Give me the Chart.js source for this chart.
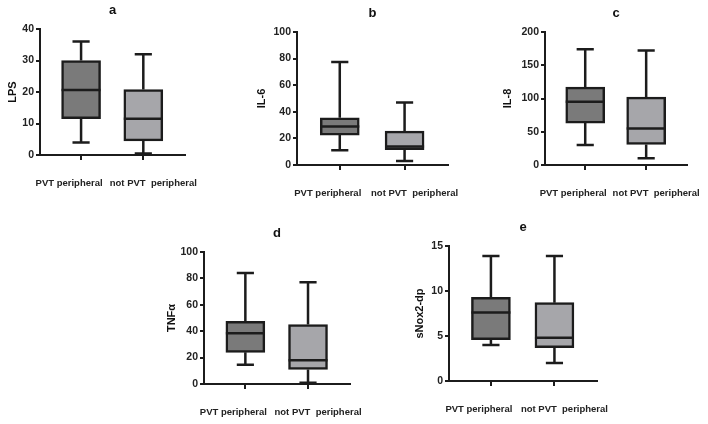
<!DOCTYPE html>
<html>
<head>
<meta charset="utf-8">
<script src="https://cdn.jsdelivr.net/npm/chart.js@4.4.1/dist/chart.umd.min.js"></script>
<style>
	html, body { margin: 0; padding: 0; background: #fff; width: 708px; height: 424px; overflow: hidden; }
	.panel { position: absolute; }
</style>
</head>
<body>
<div class="panel" id="panel-a"><canvas></canvas></div>
<div class="panel" id="panel-b"><canvas></canvas></div>
<div class="panel" id="panel-c"><canvas></canvas></div>
<div class="panel" id="panel-d"><canvas></canvas></div>
<div class="panel" id="panel-e"><canvas></canvas></div>
<script>
// groups on the x axis
const groups = ['PVT peripheral', 'not PVT  peripheral'];

// panel letters and marker names
const letters = ['a', 'b', 'c', 'd', 'e'];
const markers = ['LPS', 'IL-6', 'IL-8', 'TNFα', 'sNox2-dp'];

// y axis range / tick step per panel
const yMax = [40, 100, 200, 100, 15];
const yStep = [10, 20, 50, 20, 5];

// box values: [min, q1, median, q3, max]
const lpsPvt = [4, 11.5, 20.6, 30, 36];
const lpsNot = [0.5, 4.5, 11.5, 20.8, 32];
const il6Pvt = [11, 22.5, 29, 35.5, 77.5];
const il6Not = [3, 11.5, 14, 25.5, 47];
const il8Pvt = [30, 63, 95, 117, 174];
const il8Not = [10, 31, 55, 102, 172];
const tnfPvt = [14.5, 24, 38.5, 47.5, 84];
const tnfNot = [1, 11, 18, 45, 77];
const noxPvt = [4, 4.6, 7.6, 9.3, 13.9];
const noxNot = [2, 3.7, 4.8, 8.7, 13.9];

const boxes = [
	[lpsPvt, lpsNot],
	[il6Pvt, il6Not],
	[il8Pvt, il8Not],
	[tnfPvt, tnfNot],
	[noxPvt, noxNot]
];

// layout: plot area in page pixels, plus width of the y axis box
const frames = [
	{ left: 40, right: 185, top: 29, bottom: 155, yWidth: 36 },
	{ left: 297, right: 448, top: 32, bottom: 165, yWidth: 44 },
	{ left: 545, right: 687, top: 32, bottom: 165, yWidth: 46 },
	{ left: 204, right: 350, top: 252, bottom: 384, yWidth: 41 },
	{ left: 449, right: 597, top: 246, bottom: 381, yWidth: 38 }
];

const padTop = 36;
const padRight = 14;
const xHeight = 44;
const labelShift = [-12, 10];
const fills = ['#7a7a7a', '#a6a6aa'];
const ink = '#1c1c1c';
const stroke = 2.5;

Chart.defaults.font.family = '"Liberation Sans", Arial, sans-serif';
Chart.defaults.font.weight = 'bold';
Chart.defaults.color = '#222';

// draws median, whiskers, group labels and the panel letter from the chart's own scales
const boxPlot = {
	id: 'boxPlot',
	afterDatasetsDraw(chart, args, opts) {
		const ctx = chart.ctx;
		const x = chart.scales.x;
		const y = chart.scales.y;
		const meta = chart.getDatasetMeta(0);
		const area = chart.chartArea;
		ctx.save();
		ctx.strokeStyle = ink;
		ctx.lineWidth = stroke;
		ctx.lineCap = 'butt';
		meta.data.forEach(function(bar, i) {
			const v = opts.values[i];
			const half = bar.width / 2;
			const cap = bar.width * 0.22;
			const yMin = y.getPixelForValue(v[0]);
			const yQ1 = y.getPixelForValue(v[1]);
			const yMed = y.getPixelForValue(v[2]);
			const yQ3 = y.getPixelForValue(v[3]);
			const yTop = y.getPixelForValue(v[4]);
			ctx.beginPath();
			ctx.moveTo(bar.x - half, yMed);
			ctx.lineTo(bar.x + half, yMed);
			ctx.moveTo(bar.x, yQ3);
			ctx.lineTo(bar.x, yTop);
			ctx.moveTo(bar.x - cap, yTop);
			ctx.lineTo(bar.x + cap, yTop);
			ctx.moveTo(bar.x, yQ1);
			ctx.lineTo(bar.x, yMin);
			ctx.moveTo(bar.x - cap, yMin);
			ctx.lineTo(bar.x + cap, yMin);
			ctx.stroke();
		});
		ctx.textAlign = 'center';
		ctx.textBaseline = 'middle';
		ctx.fillStyle = '#222';
		ctx.font = 'bold 9.5px "Liberation Sans", Arial, sans-serif';
		groups.forEach(function(g, i) {
			ctx.fillText(g, x.getPixelForValue(i + 1) + labelShift[i], area.bottom + 28);
		});
		ctx.fillStyle = '#111';
		ctx.font = 'bold 13px "Liberation Sans", Arial, sans-serif';
		ctx.fillText(opts.letter, (area.left + area.right) / 2, area.top - 19);
		ctx.restore();
	}
};

letters.forEach(function(letter, p) {
	const f = frames[p];
	const node = document.getElementById('panel-' + letter);
	const w = f.right - f.left + f.yWidth + padRight;
	const h = f.bottom - f.top + padTop + xHeight;
	node.style.left = (f.left - f.yWidth) + 'px';
	node.style.top = (f.top - padTop) + 'px';
	node.style.width = w + 'px';
	node.style.height = h + 'px';

	const pair = boxes[p];

	new Chart(node.querySelector('canvas'), {
		type: 'bar',
		data: {
			datasets: [{
				data: pair.map(function(v, i) {
					return { x: i + 1, y: [v[1], v[3]] };
				}),
				backgroundColor: fills,
				borderColor: ink,
				borderWidth: stroke,
				borderSkipped: false,
				barThickness: 39
			}]
		},
		options: {
			animation: false,
			responsive: true,
			maintainAspectRatio: false,
			layout: {
				padding: { top: padTop, right: padRight, left: 0, bottom: 0 }
			},
			plugins: {
				legend: false,
				tooltip: { enabled: false },
				boxPlot: { values: pair, letter: letter }
			},
			scales: {
				x: {
					type: 'linear',
					offset: false,
					min: 0.34,
					max: 2.67,
					afterBuildTicks: function(scale) {
						scale.ticks = [{ value: 1 }, { value: 2 }];
					},
					afterFit: function(scale) {
						scale.height = xHeight;
					},
					ticks: { display: false },
					grid: {
						offset: false,
						drawOnChartArea: false,
						drawTicks: true,
						tickLength: 5,
						color: ink,
						lineWidth: 2
					},
					border: { display: true, color: ink, width: 2 }
				},
				y: {
					min: 0,
					max: yMax[p],
					afterFit: function(scale) {
						scale.width = f.yWidth;
					},
					ticks: {
						stepSize: yStep[p],
						font: { size: 10.5, weight: 'bold' },
						color: '#222',
						padding: 2
					},
					grid: {
						drawOnChartArea: false,
						drawTicks: true,
						tickLength: 4,
						color: ink,
						lineWidth: 2
					},
					border: { display: true, color: ink, width: 2 },
					title: {
						display: true,
						text: markers[p],
						font: { size: 11, weight: 'bold' },
						color: '#111',
						padding: { top: 2, bottom: 0 }
					}
				}
			}
		},
		plugins: [boxPlot]
	});
});
</script>
</body>
</html>
